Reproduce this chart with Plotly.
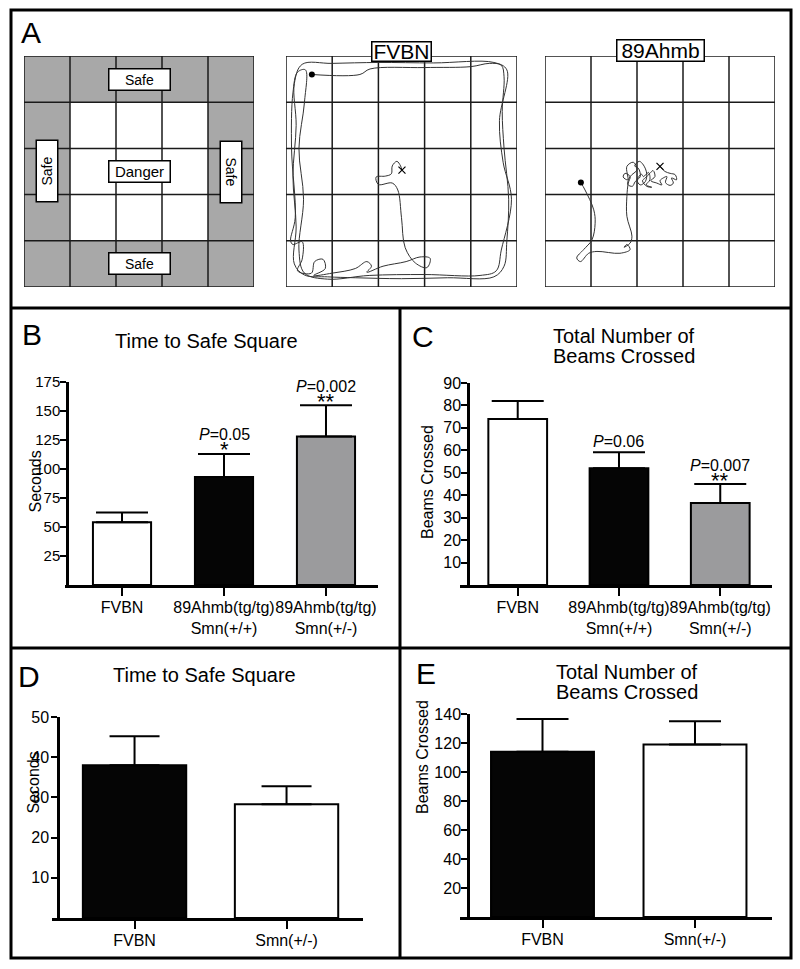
import plotly.graph_objects as go

W, H = 800, 969
FONT = "Liberation Sans, Arial, sans-serif"


def px(x):
    return x / W


def py(y):
    return 1 - y / H


# ---------------- data ----------------
B_cats = ["FVBN", "89Ahmb(tg/tg)<br>Smn(+/+)", "89Ahmb(tg/tg)<br>Smn(+/-)"]
B_vals = [54, 93, 128]
B_sem = [8.5, 20, 27]
B_pvals = ["", "<i>P</i>=0.05", "<i>P</i>=0.002"]
B_stars = ["", "*", "**"]
B_ticks = [25, 50, 75, 100, 125, 150, 175]

C_cats = B_cats
C_vals = [74, 52, 36.5]
C_sem = [8, 7.2, 8.5]
C_pvals = ["", "<i>P</i>=0.06", "<i>P</i>=0.007"]
C_stars = ["", "", "**"]
C_ticks = [10, 20, 30, 40, 50, 60, 70, 80, 90]

D_cats = ["FVBN", "Smn(+/-)"]
D_vals = [38, 28.3]
D_sem = [7.2, 4.5]
D_ticks = [10, 20, 30, 40, 50]

E_cats = D_cats
E_vals = [114, 119]
E_sem = [22.5, 16]
E_ticks = [20, 40, 60, 80, 100, 120, 140]

BC_colors = ["#ffffff", "#050505", "#9b9b9d"]
DE_colors = ["#050505", "#ffffff"]

GRID = [0, 1, 2, 3, 4, 5]

# open-field tracks (grid units, 5 x 5 squares)
fvbn_x = [0.56, 1.60, 1.82, 3.0, 4.0, 4.40, 4.66, 4.72, 4.68, 4.72, 4.82, 4.78, 4.72, 4.50,
          3.5, 2.5, 1.5, 0.9, 0.4, 0.18, 0.22, 0.15, 0.22, 0.18, 0.35, 1.0, 2.0, 3.2, 4.5,
          4.78, 4.62, 4.70, 4.88, 4.66, 4.55, 4.2, 3.0, 1.8, 0.9, 0.4, 0.28, 0.38, 0.28,
          0.40, 0.42, 0.25, 0.15, 0.12, 0.20, 0.10, 0.15, 0.35, 0.35, 0.25, 0.55, 0.62,
          0.80, 0.85, 0.60, 1.0, 1.5, 1.75, 1.85, 1.75, 2.1, 2.6, 2.9, 3.12, 3.05, 2.8,
          2.58, 2.50, 2.42, 2.30, 2.0, 1.95, 2.15, 2.28, 2.30, 2.40, 2.48, 2.51]
fvbn_y = [4.60, 4.60, 4.72, 4.75, 4.77, 4.84, 4.80, 4.55, 3.8, 3.0, 1.9, 1.0, 0.45, 0.22,
          0.20, 0.18, 0.20, 0.22, 0.26, 0.50, 1.3, 2.4, 3.5, 4.4, 4.82, 4.84, 4.86, 4.85, 4.86,
          4.70, 3.6, 2.7, 1.9, 0.8, 0.35, 0.25, 0.27, 0.25, 0.17, 0.30, 0.8, 1.9, 3.0,
          4.0, 4.70, 4.65, 4.2, 3.0, 1.5, 1.0, 0.92, 0.98, 0.60, 0.35, 0.30, 0.55,
          0.60, 0.40, 0.25, 0.30, 0.40, 0.55, 0.45, 0.32, 0.45, 0.55, 0.65, 0.62, 0.42, 0.52,
          0.85, 1.5, 2.1, 2.25, 2.22, 2.38, 2.40, 2.45, 2.62, 2.72, 2.62, 2.53]

ahmb_x = [0.78, 0.87, 1.06, 1.09, 1.02, 0.84, 0.69, 0.77, 0.95, 1.13, 1.63, 1.85, 1.78, 1.72,
          1.85, 1.89, 1.78, 1.78, 1.81, 1.85, 1.74, 1.70, 1.80, 1.78, 1.92, 2.00, 1.85, 1.80,
          1.90, 1.96, 2.07, 2.03, 1.95, 2.05, 2.14, 2.21, 2.18, 2.07, 2.00, 2.10, 2.14, 2.25,
          2.28, 2.20, 2.32, 2.21, 2.12, 2.18, 2.28, 2.35, 2.39, 2.30, 2.43, 2.54, 2.50, 2.57,
          2.65, 2.62, 2.72, 2.79, 2.75, 2.86, 2.83, 2.72, 2.61, 2.50]
ahmb_y = [2.26, 2.10, 1.67, 1.38, 1.02, 0.81, 0.63, 0.55, 0.73, 0.77, 0.73, 0.81, 0.92, 0.86,
          0.95, 1.10, 1.53, 1.96, 2.25, 2.39, 2.46, 2.38, 2.32, 2.61, 2.70, 2.54, 2.39, 2.22,
          2.18, 2.28, 2.39, 2.57, 2.62, 2.72, 2.64, 2.46, 2.28, 2.21, 2.32, 2.44, 2.39, 2.48,
          2.32, 2.21, 2.16, 2.18, 2.30, 2.36, 2.46, 2.52, 2.39, 2.30, 2.25, 2.21, 2.30, 2.36,
          2.39, 2.26, 2.20, 2.25, 2.36, 2.32, 2.43, 2.46, 2.50, 2.61]

# ---------------- figure ----------------
fig = go.Figure()
shapes = []
annotations = []
layout = dict(width=W, height=H, margin=dict(l=0, r=0, t=0, b=0, pad=0, autoexpand=False),
              paper_bgcolor="white", plot_bgcolor="rgba(0,0,0,0)",
              showlegend=False, font=dict(family=FONT, color="black"))

# Panel A maze grids
A_dom = [(24, 254), (286, 517), (545, 775)]
for i, (x0, x1) in enumerate(A_dom, start=1):
    sfx = "" if i == 1 else str(i)
    layout["xaxis" + sfx] = dict(domain=[px(x0), px(x1)], range=[0, 5], visible=False,
                                 anchor="y" + sfx, fixedrange=True)
    layout["yaxis" + sfx] = dict(domain=[py(287), py(56)], range=[0, 5], visible=False,
                                 anchor="x" + sfx, fixedrange=True)
    xr, yr = "x" + sfx, "y" + sfx
    if i == 1:
        shapes.append(dict(type="rect", xref=xr, yref=yr, x0=0, x1=5, y0=0, y1=5,
                           fillcolor="#a8a8a8", line=dict(width=0), layer="below"))
        shapes.append(dict(type="rect", xref=xr, yref=yr, x0=1, x1=4, y0=1, y1=4,
                           fillcolor="white", line=dict(width=0), layer="below"))
    for g in GRID:
        shapes.append(dict(type="line", xref=xr, yref=yr, x0=g, x1=g, y0=0, y1=5,
                           line=dict(color="#1a1a1a", width=1.5), layer="below"))
        shapes.append(dict(type="line", xref=xr, yref=yr, x0=0, x1=5, y0=g, y1=g,
                           line=dict(color="#1a1a1a", width=1.5), layer="below"))

box = dict(bgcolor="white", bordercolor="black", borderwidth=1.5, showarrow=False)
lab = dict(family=FONT, size=14, color="black")
annotations += [
    dict(xref="x", yref="y", x=2.5, y=4.5, text="Safe", width=58, height=18, borderpad=1, font=lab, **box),
    dict(xref="x", yref="y", x=2.5, y=0.5, text="Safe", width=58, height=18, borderpad=1, font=lab, **box),
    dict(xref="x", yref="y", x=2.5, y=2.5, text="Danger", width=58, height=18, borderpad=1,
         font=dict(family=FONT, size=15, color="black"), **box),
    dict(xref="x", yref="y", x=0.5, y=2.5, text="Safe", width=58, height=18, borderpad=1, font=lab,
         textangle=-90, **box),
    dict(xref="x", yref="y", x=4.5, y=2.5, text="Safe", width=58, height=18, borderpad=1, font=lab,
         textangle=90, **box),
    dict(xref="x2", yref="paper", x=2.5, y=py(52), yanchor="middle", text="FVBN", width=58, height=18,
         borderpad=0, font=dict(family=FONT, size=21, color="black"), **box),
    dict(xref="x3", yref="paper", x=2.5, y=py(51), yanchor="middle", text="89Ahmb", width=86, height=20,
         borderpad=0, font=dict(family=FONT, size=21, color="black"), **box),
]

trk = dict(color="#333333", width=1, shape="spline", smoothing=1.0)
for xa, ya, tx, ty in (("x2", "y2", fvbn_x, fvbn_y), ("x3", "y3", ahmb_x, ahmb_y)):
    fig.add_trace(go.Scatter(x=tx, y=ty, xaxis=xa, yaxis=ya, mode="lines", line=trk,
                             hoverinfo="skip"))
    fig.add_trace(go.Scatter(x=tx[:1], y=ty[:1], xaxis=xa, yaxis=ya, mode="markers",
                             marker=dict(color="black", size=6), hoverinfo="skip"))
    fig.add_trace(go.Scatter(x=tx[-1:], y=ty[-1:], xaxis=xa, yaxis=ya, mode="markers",
                             marker=dict(symbol="x-thin", size=7, line=dict(color="black", width=1.2)),
                             hoverinfo="skip"))

# Bar panels
panels = [
    dict(i=4, cats=B_cats, vals=B_vals, sem=B_sem, colors=BC_colors, ticks=B_ticks, ymax=175,
         xd=(65, 378), yd=(382, 585), ypos=67, xr=[-0.559, 2.51], bw=0.57, ew=26, so=-3, tfs=15,
         pv=B_pvals, st=B_stars, ytitle="Seconds", ytx=24, yty=482),
    dict(i=5, cats=C_cats, vals=C_vals, sem=C_sem, colors=BC_colors, ticks=C_ticks, ymax=90,
         xd=(460, 772), yd=(383, 585), ypos=468, xr=[-0.570, 2.511], bw=0.58, ew=26, so=-3, tfs=16,
         pv=C_pvals, st=C_stars, ytitle="Beams Crossed", ytx=427, yty=482),
    dict(i=6, cats=D_cats, vals=D_vals, sem=D_sem, colors=DE_colors, ticks=D_ticks, ymax=50,
         xd=(52, 363), yd=(717, 918), ypos=58, xr=[-0.543, 1.503], bw=0.68, ew=25, so=-1, tfs=16,
         pv=None, st=None, ytitle="Seconds", ytx=22, yty=816),
    dict(i=7, cats=E_cats, vals=E_vals, sem=E_sem, colors=DE_colors, ticks=E_ticks, ymax=140,
         xd=(460, 772), yd=(714, 917), ypos=468, xr=[-0.541, 1.505], bw=0.675, ew=26, so=-3, tfs=16,
         pv=None, st=None, ytitle="Beams Crossed", ytx=422, yty=816),
]

for p in panels:
    s = str(p["i"])
    fig.add_trace(go.Bar(
        x=p["cats"], y=p["vals"], xaxis="x" + s, yaxis="y" + s, width=p["bw"],
        marker=dict(color=p["colors"], line=dict(color="black", width=2)),
        error_y=dict(type="data", symmetric=False, array=p["sem"], arrayminus=[0] * len(p["sem"]),
                     color="black", thickness=2, width=p["ew"]),
        hoverinfo="skip"))
    layout["xaxis" + s] = dict(domain=[px(p["xd"][0]), px(p["xd"][1])], anchor="y" + s,
                               type="category", range=p["xr"], showline=True, linewidth=2.5,
                               linecolor="black", ticks="outside", ticklen=8, tickwidth=2,
                               tickcolor="black", showgrid=False, zeroline=False, tickangle=0,
                               automargin=False, ticklabelstandoff=-2,
                               tickfont=dict(family=FONT, size=16, color="black"), fixedrange=True)
    layout["yaxis" + s] = dict(domain=[py(p["yd"][1]), py(p["yd"][0])], anchor="free",
                               position=px(p["ypos"]), range=[0, p["ymax"]], showline=True,
                               linewidth=2.5, linecolor="black", ticks="outside", ticklen=6,
                               tickwidth=2, tickcolor="black", tickvals=p["ticks"],
                               showgrid=False, zeroline=False, automargin=False,
                               ticklabelstandoff=p["so"],
                               tickfont=dict(family=FONT, size=p["tfs"], color="black"), fixedrange=True)
    annotations.append(dict(xref="paper", yref="paper", x=px(p["ytx"]), y=py(p["yty"]),
                            text=p["ytitle"], textangle=-90, showarrow=False,
                            font=dict(family=FONT, size=16, color="black")))
    if p["pv"]:
        for c, v, e, t, st in zip(p["cats"], p["vals"], p["sem"], p["pv"], p["st"]):
            if t:
                ysh = 19 if st else 11
                annotations.append(dict(xref="x" + s, yref="y" + s, x=c, y=v + e, text=t,
                                        showarrow=False, yanchor="middle", yshift=ysh,
                                        font=dict(family=FONT, size=16, color="black")))
            if st:
                annotations.append(dict(xref="x" + s, yref="y" + s, x=c, y=v + e, text=st,
                                        showarrow=False, yanchor="middle", yshift=4,
                                        font=dict(family=FONT, size=22, color="black")))


def ptext(x, y, t, size):
    return dict(xref="paper", yref="paper", x=px(x), y=py(y), text=t, showarrow=False,
                xanchor="center", yanchor="middle", font=dict(family=FONT, size=size, color="black"))


annotations += [
    ptext(31, 32, "A", 30), ptext(32, 334, "B", 30), ptext(423, 336, "C", 30),
    ptext(29, 676, "D", 30), ptext(426, 673, "E", 30),
    ptext(206, 341, "Time to Safe Square", 20),
    ptext(624, 336, "Total Number of", 20), ptext(624, 356, "Beams Crossed", 20),
    ptext(204, 675, "Time to Safe Square", 20),
    ptext(627, 672, "Total Number of", 20), ptext(627, 692, "Beams Crossed", 20),
]

bl = dict(color="black", width=3)
shapes += [
    dict(type="rect", xref="paper", yref="paper", x0=px(11), x1=px(791), y0=py(958), y1=py(10), line=bl),
    dict(type="line", xref="paper", yref="paper", x0=px(11), x1=px(791), y0=py(308), y1=py(308), line=bl),
    dict(type="line", xref="paper", yref="paper", x0=px(11), x1=px(791), y0=py(648), y1=py(648), line=bl),
    dict(type="line", xref="paper", yref="paper", x0=px(400), x1=px(400), y0=py(958), y1=py(308), line=bl),
]

layout["shapes"] = shapes
layout["annotations"] = annotations
fig.update_layout(**layout)
fig.write_html(
    "out.html",
    config={"displayModeBar": False},
    post_script="document.body.style.margin='0';document.body.style.padding='0';",
)
